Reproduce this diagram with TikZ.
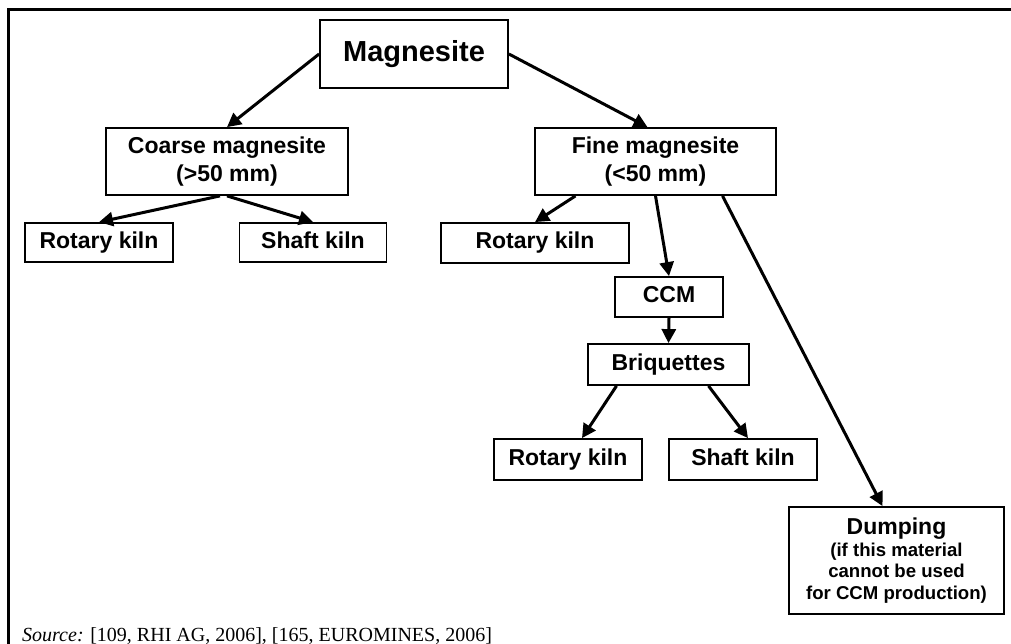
\documentclass[tikz,border=0pt]{standalone}
\usepackage{fontspec}
\setmainfont{Liberation Serif}
\setsansfont{Liberation Sans}
\usepackage{tikz}
\usetikzlibrary{positioning,arrows.meta}

\begin{document}
\begin{tikzpicture}[x=1pt, y=-1pt,
  stage/.style={draw, rectangle, line width=1.8pt, inner sep=0pt, align=center,
    font=\sffamily\bfseries\fontsize{23}{28}\selectfont},
  single/.style={stage, text height=16.5pt, text depth=4.8pt},
  feed/.style={-{Triangle[length=14pt,width=14pt]}, line width=3pt}
]
\useasboundingbox (0,0) rectangle (1011,644);
\draw[line width=3pt] (8,644) -- (8,10) -- (1011,10);

\node[stage, minimum width=188pt, minimum height=68pt, font=\sffamily\bfseries\fontsize{29}{34}\selectfont] (mag) at (414,54) {Magnesite};
\node[stage, minimum width=242pt, minimum height=67pt] (coarse) at (227,161.5) {Coarse magnesite\\(>50 mm)};
\node[stage, minimum width=241pt, minimum height=67pt] (fine) at (655.5,161.5) {Fine magnesite\\(<50 mm)};
\node[single, minimum width=148pt, minimum height=39pt] (rotA) at (99,242.5) {Rotary kiln};
\node[single, minimum width=147pt, minimum height=39pt] (shaftA) at (313,242.5) {Shaft kiln};
\node[single, minimum width=188pt, minimum height=40pt] (rotB) at (535,243) {Rotary kiln};
\node[single, minimum width=108pt, minimum height=40pt] (ccm) at (669,297) {CCM};
\node[single, minimum width=161pt, minimum height=41pt] (briq) at (668.5,364.5) {Briquettes};
\node[single, minimum width=148pt, minimum height=41pt] (rotC) at (568,459.5) {Rotary kiln};
\node[single, minimum width=148pt, minimum height=41pt] (shaftC) at (743,459.5) {Shaft kiln};
\node[stage, minimum width=215pt, minimum height=107pt, font=\sffamily\bfseries\fontsize{18.6}{21.5}\selectfont] (dump) at (896.5,560.5)
  {{\fontsize{23}{27}\selectfont Dumping}\\(if this material\\cannot be used\\for CCM production)};
\node[anchor=base west, inner sep=0pt, font=\fontsize{20}{24}\selectfont] (src) at (22,641)
  {\textit{Source:} [109, RHI AG, 2006], [165, EUROMINES, 2006]};

\draw[feed] (mag.west) -- (coarse.north);
\draw[feed] (mag.east) -- ([xshift=-8pt]fine.north);
\draw[feed] ([xshift=-7pt]coarse.south) -- (rotA.north);
\draw[feed] (coarse.south) -- (shaftA.north);
\draw[feed] ([xshift=-80pt]fine.south) -- (rotB.north);
\draw[feed] (fine.south) -- (ccm.north);
\draw[feed] ([xshift=67pt]fine.south) -- ([xshift=-14pt]dump.north);
\draw[feed] (ccm.south) -- (briq.north);
\draw[feed] ([xshift=-52pt]briq.south) -- ([xshift=14pt]rotC.north);
\draw[feed] ([xshift=40pt]briq.south) -- ([xshift=5pt]shaftC.north);
\end{tikzpicture}
\end{document}
